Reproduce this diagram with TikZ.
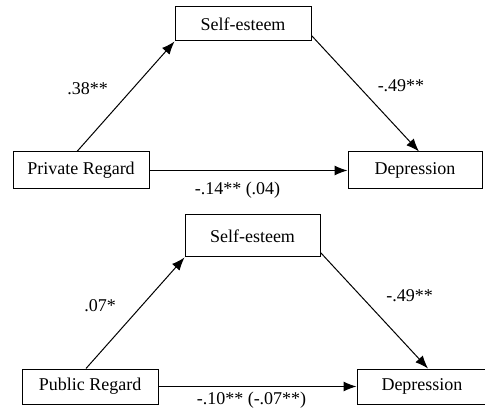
\documentclass[tikz,border=0pt]{standalone}
\usepackage{fontspec}
\setmainfont{Liberation Serif}
\usetikzlibrary{arrows.meta}
\begin{document}
\begin{tikzpicture}[x=1pt, y=-1pt, font=\fontsize{18}{20}\selectfont,
  box/.style={rectangle, draw, line width=1pt, inner sep=0pt},
  arr/.style={-{Latex[length=13pt,width=10pt]}, line width=1pt}]

\useasboundingbox (0,0) rectangle (485,414);

% private regard
\node[box, minimum width=136pt, minimum height=34pt] (se1) at (243,24) {Self-esteem};
\node[box, minimum width=136pt, minimum height=37pt] (pr) at (81,170.5) {Private Regard};
\node[box, minimum width=134pt, minimum height=37pt] (de1) at (415,170.5) {Depression};
\draw[arr] ([xshift=-4pt]pr.north) -- (se1.south west);
\draw[arr] ([yshift=6pt]se1.south east) -- ([xshift=4pt]de1.north);
\draw[arr] (pr.east) -- (de1.west);
\node (a1) at (87.5,89) {.38**};
\node (b1) at (401,86) {-.49**};
\node (c1) at (237.5,190) {-.14** (.04)};

% public regard
\node[box, minimum width=135pt, minimum height=42pt] (se2) at (252.5,236) {Self-esteem};
\node[box, minimum width=136pt, minimum height=35pt] (pu) at (90,386.5) {Public Regard};
\node[box, minimum width=130pt, minimum height=35pt] (de2) at (422,386.5) {Depression};
\draw[arr] ([xshift=-4pt]pu.north) -- (se2.south west);
\draw[arr] ([yshift=5pt]se2.south east) -- ([xshift=6pt]de2.north);
\draw[arr] (pu.east) -- (de2.west);
\node (a2) at (100,306) {.07*};
\node (b2) at (409.5,296) {-.49**};
\node (c2) at (251.5,400) {-.10** (-.07**)};

\end{tikzpicture}
\end{document}
